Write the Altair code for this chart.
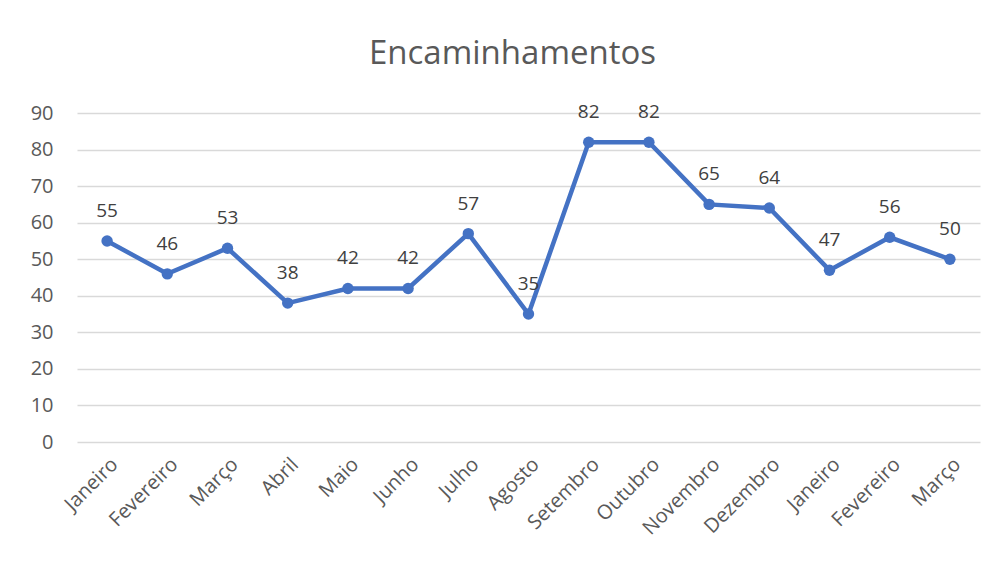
import altair as alt
import pandas as pd

months = ["Janeiro", "Fevereiro", "Março", "Abril", "Maio", "Junho", "Julho",
          "Agosto", "Setembro", "Outubro", "Novembro", "Dezembro",
          "Janeiro", "Fevereiro", "Março"]
values = [55, 46, 53, 38, 42, 42, 57, 35, 82, 82, 65, 64, 47, 56, 50]

df = pd.DataFrame({"idx": list(range(len(months))), "mes": months, "valor": values})

label_expr = "[" + ",".join("'" + m + "'" for m in months) + "][datum.value]"

FONT = "Open Sans"
BLUE = "#4472C4"

base = alt.Chart(df).encode(
    x=alt.X("idx:O", title=None,
            scale=alt.Scale(type="point", padding=0.5),
            axis=alt.Axis(labelExpr=label_expr, labelAngle=-45, domain=False,
                          ticks=False, grid=False, labelPadding=12,
                          labelFontSize=20, labelColor="#595959", labelFont=FONT)),
    y=alt.Y("valor:Q", title=None,
            scale=alt.Scale(domain=[0, 90]),
            axis=alt.Axis(values=list(range(0, 91, 10)), domain=False, ticks=False,
                          labelPadding=24, labelFontSize=20, labelColor="#595959",
                          labelFont=FONT, gridColor="#d9d9d9", gridWidth=1.5)),
)

line = base.mark_line(color=BLUE, strokeWidth=4.5)
points = base.mark_point(filled=True, color=BLUE, size=130, opacity=1)
labels = base.mark_text(dy=-30, fontSize=19, color="#404040", font=FONT).encode(
    text="valor:Q")

chart = (line + points + labels).properties(
    width=903, height=329,
    autosize=alt.AutoSizeParams(type="none"),
    padding={"left": 69, "top": 105, "right": 10, "bottom": 100},
    title=alt.TitleParams("Encaminhamentos", fontSize=33, color="#595959",
                          font=FONT, fontWeight="normal", offset=32, dx=-16),
).configure_view(stroke=None)

chart.save("out.html", embed_options={"renderer": "svg", "actions": False})
